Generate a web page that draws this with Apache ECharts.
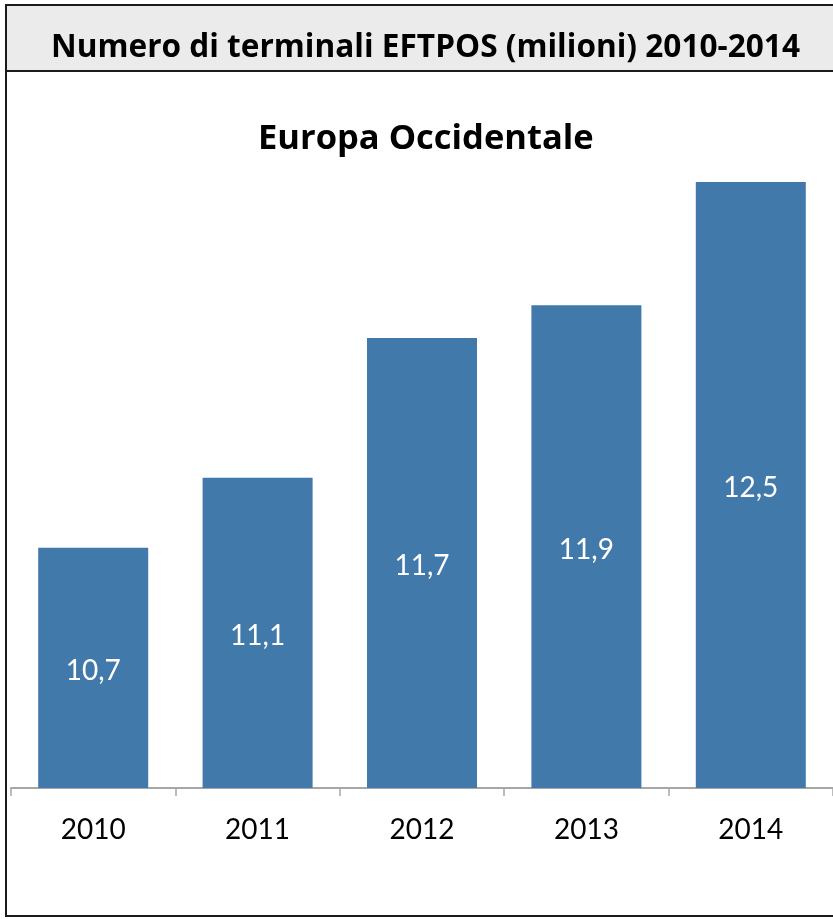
<!DOCTYPE html>
<html>
<head>
<meta charset="utf-8">
<script src="https://cdn.jsdelivr.net/npm/echarts@6/dist/echarts.min.js"></script>
<style>
  html, body { margin: 0; padding: 0; background: #fff; }
  #chart { width: 833px; height: 919px; }
</style>
</head>
<body>
<div id="chart"></div>
<script>
// data
const years = ['2010', '2011', '2012', '2013', '2014'];
// bar heights; labels show them rounded to one decimal
const terminals = [10.72, 11.06, 11.74, 11.90, 12.50];

const headerText = 'Numero di terminali EFTPOS (milioni) 2010-2014';
const chartTitle = 'Europa Occidentale';

const chart = echarts.init(document.getElementById('chart'), null, { renderer: 'canvas' });

chart.setOption({
  animation: false,
  backgroundColor: '#ffffff',
  title: [
    {
      text: headerText,
      left: 46,
      top: 27,
      textStyle: { fontFamily: 'Open Sans', fontWeight: 'bold', fontSize: 31.6, color: '#000' }
    },
    {
      text: chartTitle,
      left: 253,
      top: 117,
      textStyle: { fontFamily: 'Open Sans', fontWeight: 'bold', fontSize: 34.5, color: '#000' }
    }
  ],
  graphic: [
    // header band + outer frame
    {
      type: 'rect', z: -1,
      shape: { x: 6, y: 5, width: 860, height: 66 },
      style: { fill: '#ebebeb', stroke: '#1a1a1a', lineWidth: 2 }
    },
    {
      type: 'rect', z: -1,
      shape: { x: 6, y: 71, width: 860, height: 845 },
      style: { fill: 'none', stroke: '#1a1a1a', lineWidth: 2 }
    }
  ],
  grid: { left: 11, right: -5, top: 182, bottom: 131, containLabel: false },
  xAxis: {
    type: 'category',
    data: years,
    boundaryGap: true,
    axisLine: { lineStyle: { color: '#a6a6a6', width: 2 } },
    axisTick: { show: true, length: 8, lineStyle: { color: '#a6a6a6', width: 1.5 } },
    axisLabel: { fontFamily: 'Lato', fontSize: 28, color: '#000', margin: 28 }
  },
  yAxis: {
    type: 'value',
    min: 9.55,
    max: 12.5,
    show: false,
    splitLine: { show: false }
  },
  series: [{
    type: 'bar',
    data: terminals,
    barWidth: 110,
    itemStyle: { color: '#4079aa' },
    label: {
      show: true,
      position: 'inside',
      offset: [0, 3],
      color: '#fff',
      fontFamily: 'Lato',
      fontSize: 28,
      formatter: (p) => p.value.toFixed(1).replace('.', ',')
    }
  }]
});
</script>
</body>
</html>
